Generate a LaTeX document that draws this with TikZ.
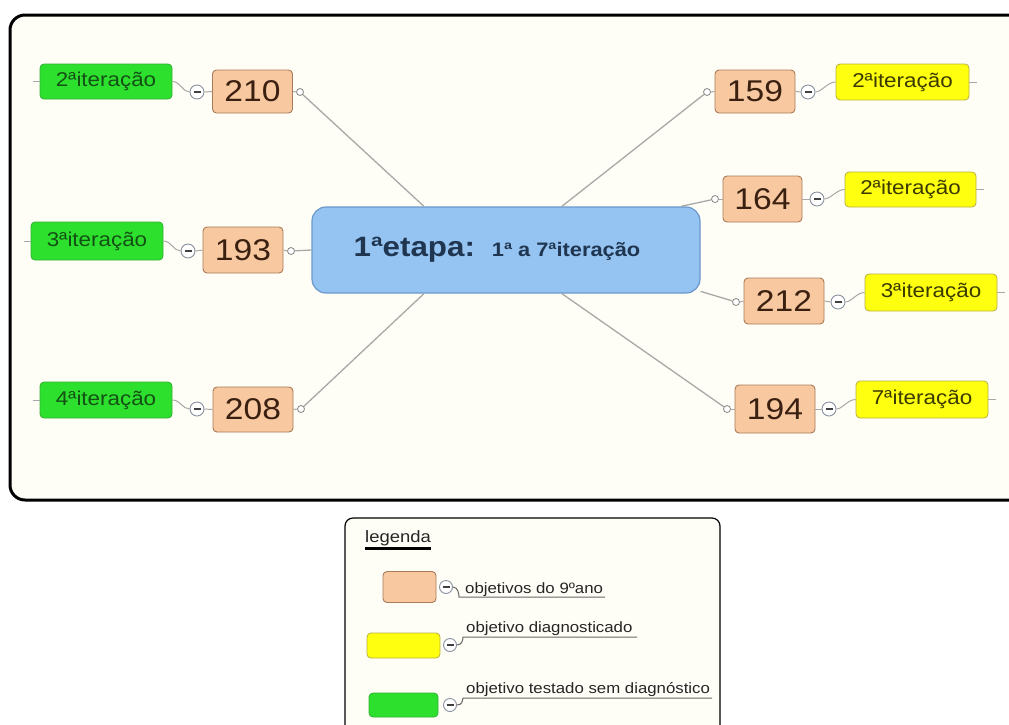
\documentclass[tikz,border=0pt]{standalone}
\usepackage{fontspec}
\setmainfont[FakeStretch=1.12]{Liberation Sans}
\newcommand\fsz[1]{\fontsize{#1}{#1}\selectfont}
\definecolor{cream}{HTML}{FFFEF6}
\definecolor{ofill}{HTML}{F8C8A0}
\definecolor{obrd}{HTML}{A87A58}
\definecolor{otext}{HTML}{3A2010}
\definecolor{gfill}{HTML}{2EE02E}
\definecolor{gbrd}{HTML}{30B030}
\definecolor{gtext}{HTML}{145014}
\definecolor{yfill}{HTML}{FFFF10}
\definecolor{ybrd}{HTML}{B8B040}
\definecolor{ytext}{HTML}{3A3A00}
\definecolor{bfill}{HTML}{96C4F2}
\definecolor{bbrd}{HTML}{6A98CC}
\definecolor{btext}{HTML}{1F3550}
\definecolor{lgray}{HTML}{A8A8A8}
\definecolor{cbrd}{HTML}{8890A0}
\tikzset{
  obox/.style={draw=obrd, fill=ofill, line width=0.9pt, rounded corners=4pt, minimum width=80pt, minimum height=45pt, inner sep=0pt, text=otext, font=\fsz{30}},
  gbox/.style={draw=gbrd, fill=gfill, line width=0.8pt, rounded corners=4pt, minimum width=132pt, minimum height=36pt, inner sep=0pt, text=gtext, font=\fsz{20}},
  ybox/.style={draw=ybrd, fill=yfill, line width=0.8pt, rounded corners=4pt, minimum width=132pt, minimum height=36pt, inner sep=0pt, text=ytext, font=\fsz{20}},
  collapse/.style={circle, draw=cbrd, fill=white, line width=0.9pt, minimum size=14pt, inner sep=0pt,
    path picture={\draw[line width=1.6pt, black!75] ([xshift=-3.5pt]path picture bounding box.center) -- ([xshift=3.5pt]path picture bounding box.center);}},
  knob/.style={circle, draw=lgray!80!black, fill=white, line width=0.8pt, minimum size=7pt, inner sep=0pt},
  link/.style={draw=lgray, line width=1.3pt},
  thin link/.style={draw=lgray, line width=1pt},
  legtext/.style={font=\fsz{15}, text=black!85, inner sep=0pt, anchor=base west},
}
\begin{document}
\begin{tikzpicture}[x=1pt,y=-1pt]
\useasboundingbox (0,0) rectangle (1009,724);
\fill[white] (0,0) rectangle (1009,724);
% main frame
\fill[cream, rounded corners=15pt] (1030,15) -- (10,15) -- (10,500) -- (1030,500) -- cycle;
\draw[line width=3pt, rounded corners=15pt] (1030,15) -- (10,15) -- (10,500) -- (1030,500);

% central node
\node[draw=bbrd, fill=bfill, line width=1.2pt, rounded corners=14pt, minimum width=388pt, minimum height=86pt, text=btext] (ctr) at (506,250)
  {\raisebox{-3pt}{\fsz{28}\bfseries 1ªetapa:\hspace{0.6em}{\fsz{19.5}1ª a 7ªiteração}}\hspace*{18pt}};

% left side
\node[obox, minimum height=43pt] (n210) at (252.5,91.5) {210};
\node[obox, minimum height=46pt] (n193) at (243,250) {193};
\node[obox] (n208) at (253,409.5) {208};
\node[collapse] (c210) at (197,92) {};
\node[collapse] (c193) at (188,251) {};
\node[collapse] (c208) at (197,409) {};
\node[knob] (k210) at (300,92) {};
\node[knob] (k193) at (291,251) {};
\node[knob] (k208) at (301,409) {};
\node[gbox, minimum height=35pt] (g210) at (106,81.5) {2ªiteração};
\node[gbox, minimum height=38pt] (g193) at (97,241) {3ªiteração};
\node[gbox] (g208) at (106,400) {4ªiteração};

% right side
\node[obox, minimum height=43pt] (n159) at (755,91.5) {159};
\node[obox, minimum height=46pt, minimum width=79pt] (n164) at (762.5,199) {164};
\node[obox, minimum height=46pt] (n212) at (784,301) {212};
\node[obox, minimum height=48pt] (n194) at (775,409) {194};
\node[collapse] (c159) at (808,92) {};
\node[collapse] (c164) at (817,199) {};
\node[collapse] (c212) at (838,302) {};
\node[collapse] (c194) at (829,409) {};
\node[knob] (k159) at (707,92) {};
\node[knob] (k164) at (715,199) {};
\node[knob] (k212) at (736,302) {};
\node[knob] (k194) at (727,409) {};
\node[ybox, minimum width=133pt] (y159) at (902.5,82) {2ªiteração};
\node[ybox, minimum width=131pt, minimum height=35pt] (y164) at (910.5,189.5) {2ªiteração};
\node[ybox, minimum height=37pt] (y212) at (931,292.5) {3ªiteração};
\node[ybox, minimum height=37pt] (y194) at (922,399.5) {7ªiteração};

% connectors from centre
\draw[link] (ctr.152) -- (k210);
\draw[link] (ctr.west) -- (k193);
\draw[link] (ctr.208) -- (k208);
\draw[link] (ctr.38.5) -- (k159);
\draw[link] (ctr.14) -- (k164);
\draw[link] (ctr.-12.4) -- (k212);
\draw[link] (ctr.-38.5) -- (k194);
\foreach \n in {210,193,208}{
  \draw[thin link] (k\n.west) -- (n\n.east);
  \draw[thin link] (n\n.west) -- (c\n.east);
  \draw[thin link] (c\n.west) .. controls +(-7,0) and +(8,0) .. (g\n.east);
  \draw[thin link] (g\n.west) -- ++(-7,0);
}
\foreach \n in {159,164,212,194}{
  \draw[thin link] (k\n.east) -- (n\n.west);
  \draw[thin link] (n\n.east) -- (c\n.west);
  \draw[thin link] (c\n.east) .. controls +(6,0) and +(-8,0) .. (y\n.west);
  \draw[thin link] (y\n.east) -- ++(8,0);
}

% legend
\fill[cream, rounded corners=8pt] (345,740) -- (345,518) -- (720,518) -- (720,740) -- cycle;
\draw[line width=1.2pt, rounded corners=8pt] (345,740) -- (345,518) -- (720,518) -- (720,740);
\node[font=\fsz{16.5}, text=black!85, inner sep=0pt, anchor=base west] (legt) at (365,542) {legenda};
\draw[line width=3pt] ([yshift=-3pt]legt.south west) -- ([yshift=-3pt]legt.south east);

\node[obox, minimum width=53pt, minimum height=31pt] (s1) at (409.5,587) {};
\node[collapse, minimum size=13pt] (lc1) at (446,587) {};
\coordinate (u1a) at (459,597);
\coordinate (u1b) at (605,597);
\draw[thin link, draw=black!60] (lc1.east) .. controls +(5,0) and +(0,-3) .. (u1a) -- (u1b);
\node[legtext] (t1) at (465,593) {objetivos do 9ºano};

\node[ybox, minimum width=73pt, minimum height=25pt] (s2) at (403.5,645.5) {};
\node[collapse, minimum size=13pt] (lc2) at (450,645) {};
\coordinate (u2a) at (463,637);
\coordinate (u2b) at (637,637);
\draw[thin link, draw=black!60] (lc2.east) .. controls +(5,0) and +(0,3) .. (u2a) -- (u2b);
\node[legtext] (t2) at (466,632) {objetivo diagnosticado};

\node[gbox, minimum width=69pt, minimum height=24pt] (s3) at (403.5,705) {};
\node[collapse, minimum size=13pt] (lc3) at (450,705) {};
\coordinate (u3a) at (463,698);
\coordinate (u3b) at (712,698);
\draw[thin link, draw=black!60] (lc3.east) .. controls +(5,0) and +(0,3) .. (u3a) -- (u3b);
\node[legtext] (t3) at (466,693) {objetivo testado sem diagnóstico};
\end{tikzpicture}
\end{document}
